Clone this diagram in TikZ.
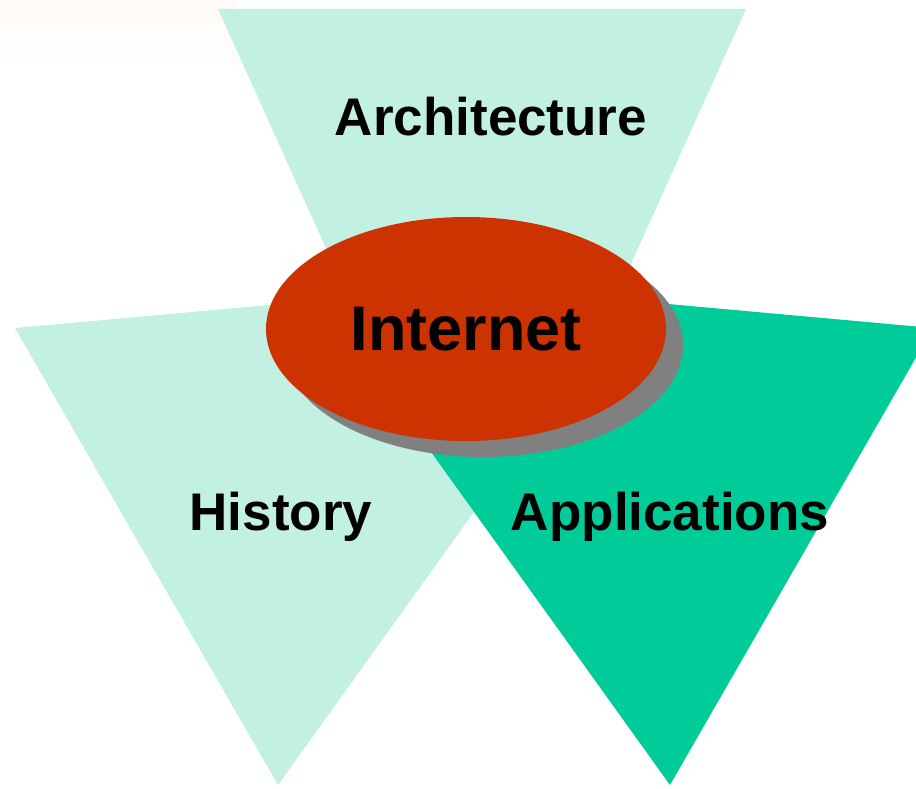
\documentclass[tikz,border=0pt]{standalone}
\usepackage{fontspec}
\setmainfont{Liberation Sans}
\usetikzlibrary{shapes.geometric,shadows}
\definecolor{mint}{HTML}{C2F0E3}
\definecolor{sea}{HTML}{00CC99}
\definecolor{brick}{HTML}{CC3300}
\definecolor{haze}{HTML}{FFFBF6}

\begin{document}
\begin{tikzpicture}[
x=1pt,y=-1pt,
pale/.style={fill=mint},
deep/.style={fill=sea},
hub/.style={ellipse,fill=brick,minimum width=400pt,minimum height=224pt,inner sep=0pt,
  drop shadow={shadow xshift=17pt,shadow yshift=-16pt,fill=black!50,opacity=1},
  font=\fontsize{63}{70}\selectfont\bfseries},
topic/.style={anchor=base,font=\fontsize{53}{60}\selectfont\bfseries},
]
\useasboundingbox (0,0) rectangle (916,789);
\shade[top color=haze,bottom color=white] (0,0) rectangle (236,72);
\path[pale]
    (218,9) -- (746,9) -- (547,450) -- (417,450) -- cycle;
\path[pale]
    (15,328) -- (600,275) -- (626,300) -- (278,785) -- cycle;
\path[deep]
    (933,328) -- (348,275) -- (322,300) -- (670,785) -- cycle;
\node[hub] (inet) at (466,329) {Internet};
\node[topic] (arch) at (491,136) {Architecture};
\node[topic] (hist) at (281,530) {History};
\node[topic] (apps) at (670,530) {Applications};
\end{tikzpicture}
\end{document}
